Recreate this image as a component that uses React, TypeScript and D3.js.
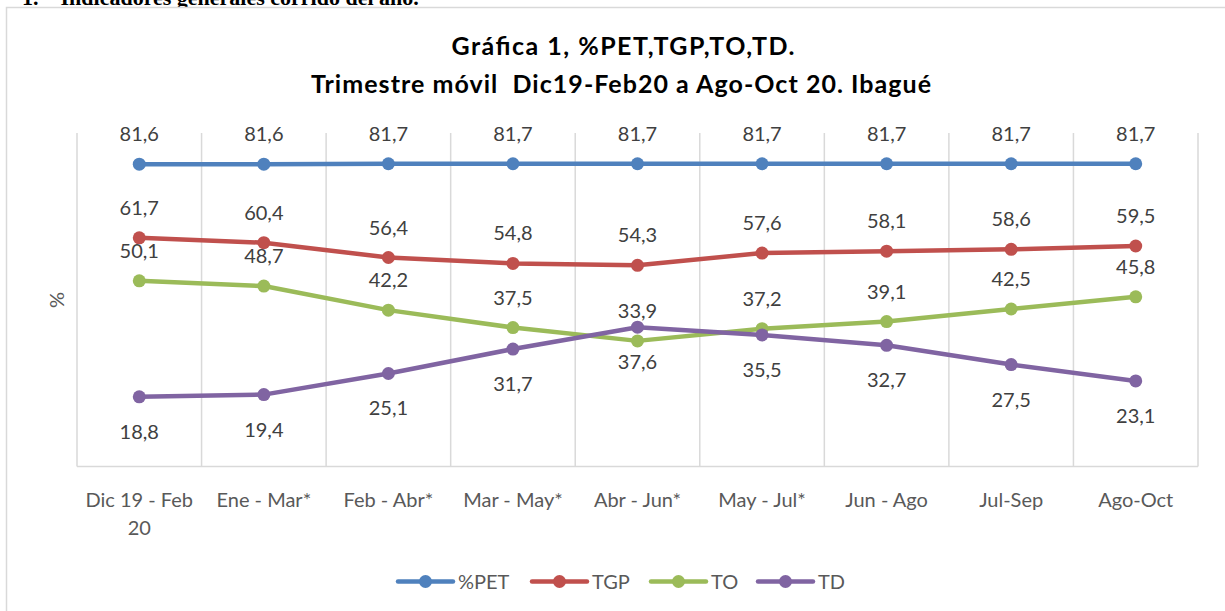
import React from 'react';
import * as d3 from 'd3';

// Trimestre móvil categories
const categories = [
  'Dic 19 - Feb 20',
  'Ene - Mar*',
  'Feb - Abr*',
  'Mar - May*',
  'Abr - Jun*',
  'May - Jul*',
  'Jun - Ago',
  'Jul-Sep',
  'Ago-Oct',
];

const pet = [81.6, 81.6, 81.7, 81.7, 81.7, 81.7, 81.7, 81.7, 81.7];
const tgp = [61.7, 60.4, 56.4, 54.8, 54.3, 57.6, 58.1, 58.6, 59.5];
const to = [50.1, 48.7, 42.2, 37.5, 33.9, 37.2, 39.1, 42.5, 45.8];
const td = [18.8, 19.4, 25.1, 31.7, 37.6, 35.5, 32.7, 27.5, 23.1];

const seriesNames = ['%PET', 'TGP', 'TO', 'TD'];
const seriesColors = ['#4F81BD', '#C0504D', '#9BBB59', '#8064A2'];
const yDomain = [0, 90];

const FONT = 'Lato, Calibri, "Open Sans", sans-serif';

const fmt = (v: number) => d3.format('.1f')(v).replace('.', ',');

// naive wrap for long category names
function wrap(label: string): string[] {
  if (label.length <= 12) return [label];
  const cut = label.lastIndexOf(' ', 12);
  return [label.slice(0, cut), label.slice(cut + 1)];
}

export default function App() {
  const width = 1225;
  const height = 611;
  const plot = { left: 77, right: 1198, top: 133, bottom: 466.5 };

  const x = d3.scaleBand<string>()
    .domain(categories)
    .range([plot.left, plot.right]);
  const cx = (c: string) => (x(c) as number) + x.bandwidth() / 2;

  const y = d3.scaleLinear()
    .domain(yDomain)
    .range([plot.bottom, plot.top]);

  const allSeries = [pet, tgp, to, td];

  const line = d3.line<number>()
    .x((_, i) => cx(categories[i]))
    .y((d) => y(d));

  // grid lines at category boundaries
  const gridX = categories.map((c) => x(c) as number).concat([plot.right]);

  // legend layout
  const legendX = [398, 532, 651, 758];
  const legendY = 581.5;

  return (
    <div style={{ position: 'absolute', left: 0, top: 0 }}>
      <svg width={width} height={height} style={{ display: 'block', background: '#fff' }}>
        {/* heading from the document, cut at the top */}
        <text x={22} y={5} fontFamily='"Liberation Serif", "Times New Roman", serif'
          fontWeight={700} fontSize={22} fill="#000">
          1.{'\u00a0\u00a0\u00a0\u00a0'}Indicadores generales corrido del año.
        </text>

        {/* chart frame */}
        <rect x={6.5} y={7.5} width={1240} height={640} fill="#fff" stroke="#D9D9D9" strokeWidth={1.5} />

        {/* title */}
        <text x={623} y={55} textAnchor="middle" fontFamily={FONT} fontWeight={700} fontSize={25} fill="#000"
          textLength={343} lengthAdjust="spacing">
          Gráfica 1, %PET,TGP,TO,TD.
        </text>
        <text x={621} y={93} textAnchor="middle" fontFamily={FONT} fontWeight={700} fontSize={25} fill="#000"
          textLength={620} lengthAdjust="spacing" style={{ whiteSpace: 'pre' }}>
          {'Trimestre móvil  Dic19-Feb20 a Ago-Oct 20. Ibagué'}
        </text>

        {/* vertical gridlines */}
        {gridX.map((gx, i) => (
          <line key={i} x1={gx} x2={gx} y1={plot.top} y2={plot.bottom} stroke="#D9D9D9" strokeWidth={1.5} />
        ))}
        {/* category axis line */}
        <line x1={plot.left} x2={plot.right} y1={plot.bottom} y2={plot.bottom} stroke="#D9D9D9" strokeWidth={1.5} />

        {/* axis title */}
        <text transform={`translate(64,300) rotate(-90)`} textAnchor="middle" fontFamily={FONT}
          fontSize={20} fill="#595959">%</text>

        {/* category labels */}
        {categories.map((c) => (
          <text key={c} x={cx(c)} y={507} textAnchor="middle" fontFamily={FONT} fontSize={20} fill="#595959">
            {wrap(c).map((ln, j) => (
              <tspan key={j} x={cx(c)} dy={j === 0 ? 0 : 28}>{ln}</tspan>
            ))}
          </text>
        ))}

        {/* series */}
        {allSeries.map((s, si) => (
          <g key={seriesNames[si]}>
            <path d={line(s) || ''} fill="none" stroke={seriesColors[si]} strokeWidth={4.5}
              strokeLinecap="round" strokeLinejoin="round" />
            {s.map((v, i) => (
              <circle key={i} cx={cx(categories[i])} cy={y(v)} r={6.5} fill={seriesColors[si]} />
            ))}
          </g>
        ))}

        {/* data labels: TD below, others above */}
        {allSeries.map((s, si) => (
          <g key={'lbl' + si}>
            {s.map((v, i) => (
              <text key={i} x={cx(categories[i])} y={si === 3 ? y(v) + 42 : y(v) - 23}
                textAnchor="middle" fontFamily={FONT} fontSize={20} fill="#404040">
                {fmt(v)}
              </text>
            ))}
          </g>
        ))}

        {/* legend */}
        {seriesNames.map((n, i) => (
          <g key={n} transform={`translate(${legendX[i]},${legendY})`}>
            <line x1={0} x2={55} y1={0} y2={0} stroke={seriesColors[i]} strokeWidth={4.5} strokeLinecap="round" />
            <circle cx={27.5} cy={0} r={6.5} fill={seriesColors[i]} />
            <text x={60} y={7} fontFamily={FONT} fontSize={20} fill="#595959">{n}</text>
          </g>
        ))}
      </svg>
    </div>
  );
}
